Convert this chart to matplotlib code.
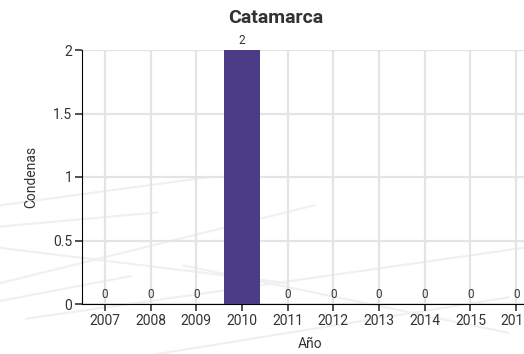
import matplotlib
matplotlib.use("Agg")
import matplotlib.pyplot as plt
from matplotlib.lines import Line2D

years = ["2007", "2008", "2009", "2010", "2011", "2012", "2013", "2014", "2015", "2016"]
condenas = [0, 0, 0, 2, 0, 0, 0, 0, 0, 0]
yticks = [0, 0.5, 1, 1.5, 2]
ytick_labels = ["0", "0.5", "1", "1.5", "2"]

plt.rcParams['font.family'] = ['Roboto', 'DejaVu Sans']
W, H = 524, 354
fig = plt.figure(figsize=(W / 100, H / 100), dpi=100)
fig.patch.set_facecolor("white")

# faint decorative background texture
bg = [
    ((0, 0.42), (0.40, 0.50)), ((0, 0.30), (0.55, 0.20)), ((0.05, 0.10), (1.0, 0.30)),
    ((0, 0.20), (0.60, 0.42)), ((0, 0.36), (0.30, 0.40)), ((0, 0.15), (0.25, 0.22)),
    ((0.30, 0.0), (0.97, 0.16)), ((0.35, 0.25), (0.97, 0.06)),
]
for (x0, y0), (x1, y1) in bg:
    fig.add_artist(Line2D([x0, x1], [y0, y1], transform=fig.transFigure,
                          color="#f0f0f0", lw=1.5, zorder=0))

# axes occupies 82..524 px; the last category band is cut by the figure edge
step = 457 / len(years)
left = 82 / W
bottom, top = 1 - 304 / H, 1 - 50 / H
ax = fig.add_axes([left, bottom, 1 - left, top - bottom])
ax.set_facecolor("none")

x = list(range(len(years)))
bars = ax.bar(x, condenas, width=0.8, color="#4c3b86", zorder=3)
ax.set_xlim(-0.5, -0.5 + (W - 82) / step)
ax.set_ylim(0, 2)
ax.set_xticks(x)
ax.set_xticklabels(years)
ax.set_yticks(yticks)
ax.set_yticklabels(ytick_labels)

ax.grid(True, color="#e4e4e4", lw=1.6, zorder=1)
ax.set_axisbelow(True)
for s in ["top", "right"]:
    ax.spines[s].set_visible(False)
ax.spines["left"].set_color("black")
ax.spines["bottom"].set_color("black")
ax.tick_params(axis="both", length=5, width=1.2, color="#333333",
               labelsize=10, labelcolor="#333333", pad=2)

for xi, v in zip(x, condenas):
    ax.annotate(str(v), (xi, v), xytext=(0, 2), textcoords="offset points",
                ha="center", va="bottom", fontsize=8.5, color="#333333", zorder=5)

ax.set_xlabel("Año", fontsize=10, color="#333333")
ax.xaxis.set_label_coords((310 - 82) / (W - 82), -0.13)
ax.set_ylabel("Condenas", fontsize=10, color="#333333", labelpad=11)
fig.text(276 / W, 1 - 18 / H, "Catamarca", ha="center", va="center",
         fontsize=14, fontweight="bold", color="#333333")

fig.savefig("out.png", dpi=100)
